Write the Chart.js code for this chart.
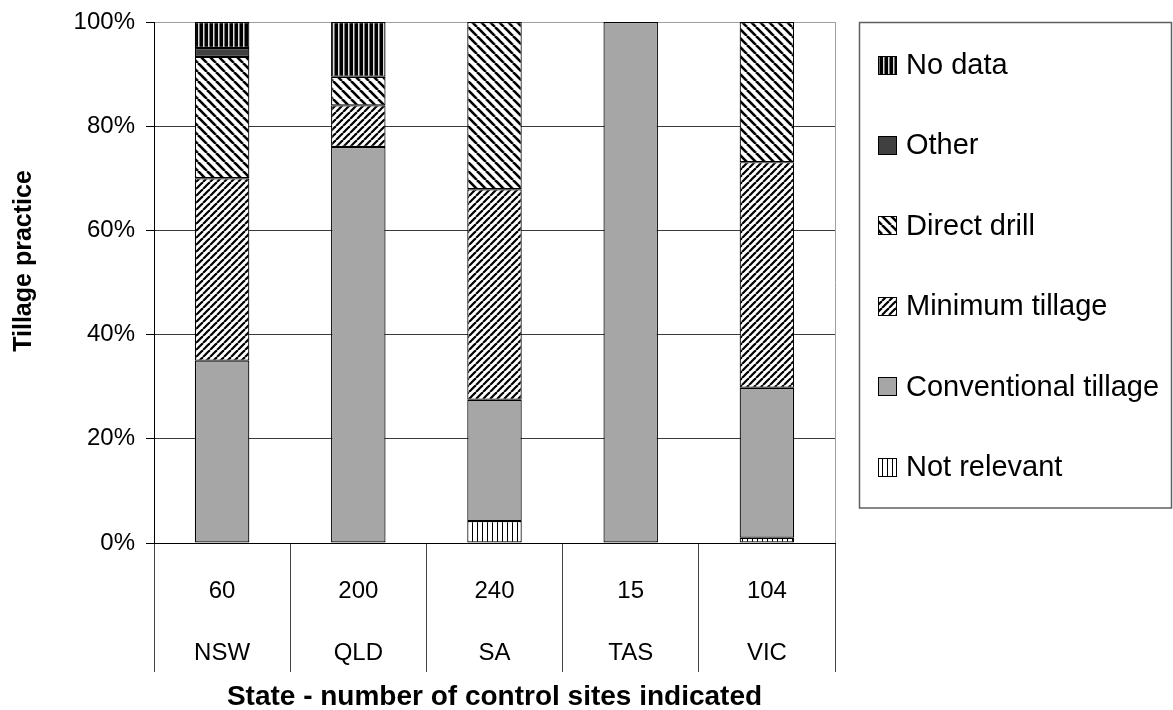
<!DOCTYPE html>
<html>
<head>
<meta charset="utf-8">
<script src="https://cdn.jsdelivr.net/npm/chart.js@4/dist/chart.umd.min.js"></script>
<style>
  body { margin: 0; background: #fff; }
  canvas { display: block; }
</style>
</head>
<body>
<canvas id="tillageChart" width="1173" height="710"></canvas>
<script>
// Categories : etats et nombre de sites de controle
const states = ['NSW', 'QLD', 'SA', 'TAS', 'VIC'];
const siteCounts = ['60', '200', '240', '15', '104'];

// Series (% des sites), du bas vers le haut de la pile
const notRelevant = [0, 0, 4.2, 0, 1.0];
const conventional = [35, 76, 23.3, 100, 28.8];
const minimumTillage = [35, 8, 40.4, 0, 43.3];
const directDrill = [23.3, 5.5, 32.1, 0, 26.9];
const other = [1.7, 0, 0, 0, 0];
const noData = [5, 10.5, 0, 0, 0];

const yTicks = [0, 20, 40, 60, 80, 100];

const FONT = 'Arial, "Liberation Sans", sans-serif';

// petits motifs de hachures
function makePattern(size, draw) {
    const c = document.createElement('canvas');
    c.width = size.w; c.height = size.h;
    const g = c.getContext('2d');
    draw(g, size.w, size.h);
    return g.createPattern(c, 'repeat');
}
function diag(p, w, down) {
    return makePattern({ w: p, h: p }, (g, W, H) => {
        g.fillStyle = '#fff'; g.fillRect(0, 0, W, H);
        g.strokeStyle = '#000'; g.lineWidth = w;
        for (let k = -1; k <= 1; k++) {
            g.beginPath();
            if (down) { g.moveTo(k * p, 0); g.lineTo(k * p + p, p); }
            else { g.moveTo(k * p, p); g.lineTo(k * p + p, 0); }
            g.stroke();
        }
    });
}
const patNoData = makePattern({ w: 5, h: 1 }, (g, W, H) => {
    g.fillStyle = '#000'; g.fillRect(0, 0, W, H);
    g.fillStyle = '#ddd'; g.fillRect(3, 0, 1.5, H);
});
const patNotRelevant = makePattern({ w: 5, h: 1 }, (g, W, H) => {
    g.fillStyle = '#fff'; g.fillRect(0, 0, W, H);
    g.fillStyle = '#000'; g.fillRect(2, 0, 1, H);
});
const patDirect = diag(9, 2.6, true);
const patMinimum = diag(7, 2.2, false);

const mkSet = (label, data, bg) => ({
    label: label,
    data: data,
    backgroundColor: bg,
    borderColor: '#000',
    borderWidth: 1.2,
    borderSkipped: false,
    barPercentage: 0.4,
    categoryPercentage: 1
});

// cadre gris, titre de l'axe Y et legende encadree
const framePlugin = {
    id: 'frame',
    beforeDatasetsDraw(chart) {
        const { ctx, chartArea: a } = chart;
        ctx.save();
        ctx.strokeStyle = '#a0a0a0';
        ctx.lineWidth = 1;
        ctx.beginPath();
        ctx.moveTo(Math.round(a.right) + 0.5, a.top);
        ctx.lineTo(Math.round(a.right) + 0.5, a.bottom);
        ctx.stroke();
        ctx.restore();
    },
    afterDraw(chart) {
        const ctx = chart.ctx;
        ctx.save();
        // titre Y
        ctx.translate(24, 261);
        ctx.rotate(-Math.PI / 2);
        ctx.font = 'bold 25px ' + FONT;
        ctx.textAlign = 'center';
        ctx.textBaseline = 'middle';
        ctx.fillStyle = '#000';
        ctx.fillText('Tillage practice', 0, 0);
        ctx.restore();

        ctx.save();
        ctx.strokeStyle = '#606060';
        ctx.lineWidth = 1.5;
        ctx.strokeRect(859.5, 22.5, 312, 485.5);
        const sets = chart.data.datasets.slice().reverse();
        ctx.font = '29px ' + FONT;
        ctx.textBaseline = 'middle';
        sets.forEach((ds, i) => {
            const y = 65 + i * 80.4;
            ctx.fillStyle = ds.backgroundColor;
            ctx.fillRect(878, Math.round(y - 9.5), 19, 19);
            ctx.strokeStyle = '#000';
            ctx.lineWidth = 1;
            ctx.strokeRect(878.5, Math.round(y - 9.5) + 0.5, 18, 18);
            ctx.fillStyle = '#000';
            ctx.fillText(ds.label, 906, y + 1);
        });
        ctx.restore();
    }
};

new Chart(document.getElementById('tillageChart'), {
    type: 'bar',
    data: {
        labels: states.map((s, i) => [siteCounts[i], s]),
        datasets: [
            mkSet('Not relevant', notRelevant, patNotRelevant),
            mkSet('Conventional tillage', conventional, '#a6a6a6'),
            mkSet('Minimum tillage', minimumTillage, patMinimum),
            mkSet('Direct drill', directDrill, patDirect),
            mkSet('Other', other, '#404040'),
            mkSet('No data', noData, patNoData)
        ]
    },
    options: {
        responsive: false,
        animation: false,
        layout: { padding: { top: 22, right: 338, left: 0, bottom: 0 } },
        plugins: {
            legend: { display: false },
            tooltip: { enabled: false }
        },
        scales: {
            x: {
                stacked: true,
                offset: true,
                grid: {
                    offset: true,
                    drawOnChartArea: false,
                    drawTicks: true,
                    tickLength: 129,
                    color: '#444',
                    tickColor: '#444'
                },
                border: { display: true, color: '#000', width: 1 },
                ticks: {
                    color: '#000',
                    font: { family: FONT, size: 24, lineHeight: 2.58 },
                    padding: -112,
                    maxRotation: 0,
                    autoSkip: false
                },
                title: {
                    display: true,
                    text: 'State - number of control sites indicated',
                    color: '#000',
                    font: { family: FONT, size: 28, weight: 'bold', lineHeight: 0.9 },
                    padding: { top: 0, bottom: 0 }
                },
                afterFit: (scale) => { scale.height = 167; }
            },
            y: {
                stacked: true,
                min: 0,
                max: 100,
                afterBuildTicks: (scale) => { scale.ticks = yTicks.map(v => ({ value: v })); },
                grid: {
                    color: (ctx) => (ctx.tick && ctx.tick.value === 100 ? '#a0a0a0' : '#3a3a3a'),
                    tickColor: '#000',
                    tickLength: 8,
                    lineWidth: 1
                },
                border: { display: true, color: '#000', width: 1 },
                ticks: {
                    color: '#000',
                    padding: 11,
                    font: { family: FONT, size: 24, lineHeight: 1 },
                    callback: (v) => v + '%'
                },
                afterFit: (scale) => {
                    scale.width = 154;
                    scale.paddingTop = 0;
                    scale.paddingBottom = 0;
                }
            }
        }
    },
    plugins: [framePlugin]
});
</script>
</body>
</html>
